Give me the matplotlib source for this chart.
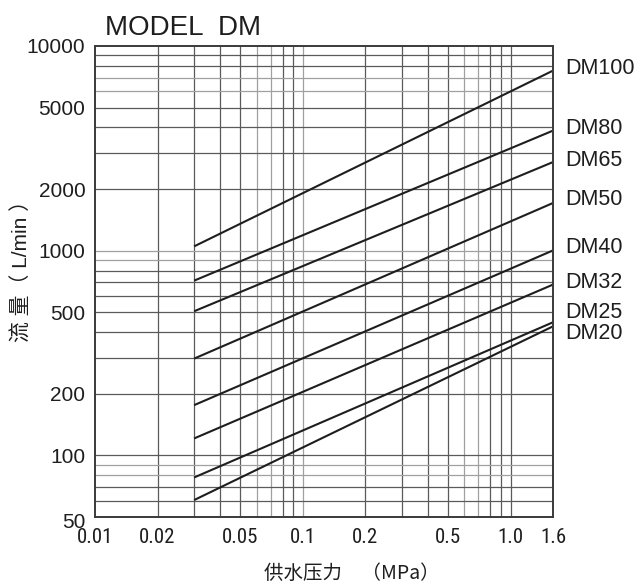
import numpy as np
import matplotlib
matplotlib.use('Agg')
import matplotlib.pyplot as plt
from matplotlib import font_manager as fm
from matplotlib.transforms import ScaledTranslation

# ---- data ----
models = ['DM100', 'DM80', 'DM65', 'DM50', 'DM40', 'DM32', 'DM25', 'DM20']
p_start = [0.03] * 8
p_end = [1.6] * 8
q_start = [1050, 714, 506, 297, 176, 121, 78, 60.5]
q_end = [7580, 3860, 2710, 1710, 1003, 683, 447, 427]

xticks = [0.01, 0.02, 0.05, 0.1, 0.2, 0.5, 1.0, 1.6]
xticklabels = ['0.01', '0.02', '0.05', '0.1', '0.2', '0.5', '1.0', '1.6']
yticks = [50, 100, 200, 500, 1000, 2000, 5000, 10000]
yticklabels = ['50', '100', '200', '500', '1000', '2000', '5000', '10000']

# ---- fonts ----
names = {f.name for f in fm.fontManager.ttflist}
LATIN = 'Liberation Sans' if 'Liberation Sans' in names else 'DejaVu Sans'
NARROW = LATIN
for cand in ['Liberation Sans Narrow', 'Roboto Condensed', 'DejaVu Sans Condensed']:
    if cand in names:
        NARROW = cand
        break
CJK = 'Noto Sans CJK SC'

INK = '#1e1e1e'
GRID_DARK = '#5a5a5a'
GRID_LIGHT = '#a0a0a0'

fig = plt.figure(figsize=(6.44, 5.85), dpi=100)
ax = fig.add_axes([95 / 644, 1 - 517 / 585, (553 - 95) / 644, (517 - 46) / 585])
ax.set_xscale('log')
ax.set_yscale('log')
ax.set_xlim(0.01, 1.6)
ax.set_ylim(50, 10000)

# grid
light_x = {0.06, 0.07, 0.1, 0.6, 0.7}
light_y = {7000, 6000, 1000, 900, 90, 80}
xg = [round(k * 10.0 ** d, 4) for d in (-2, -1) for k in range(1, 10)] + [1.0]
for v in xg:
    if v <= 0.01:
        continue
    ax.axvline(v, color=GRID_LIGHT if v in light_x else GRID_DARK, lw=0.9, zorder=1)
yg = [k * 10 ** d for d in (1, 2, 3) for k in range(1, 10)] + [10000]
for v in yg:
    if v <= 50 or v >= 10000:
        continue
    ax.axhline(v, color=GRID_LIGHT if v in light_y else GRID_DARK, lw=0.9, zorder=1)

# lines
for m, x0, x1, y0, y1 in zip(models, p_start, p_end, q_start, q_end):
    ax.plot([x0, x1], [y0, y1], color=INK, lw=1.5, zorder=3, solid_capstyle='butt')

# model labels
label_dy_px = [2, 2, 2, 3, 2.5, 2, 9.5, -7.5]
for m, x1, y1, dy in zip(models, p_end, q_end, label_dy_px):
    ax.annotate(m, xy=(x1, y1), xytext=(8.6, dy * 0.72), textcoords='offset points',
                ha='left', va='center', fontsize=15.5, family=LATIN, color=INK,
                annotation_clip=False)

# ticks
ax.set_xticks(xticks)
ax.set_xticklabels(xticklabels, family=NARROW, fontsize=15, color=INK)
ax.set_xticks([], minor=True)
ax.set_yticks(yticks)
ax.set_yticklabels(yticklabels, family=LATIN, fontsize=15, color=INK)
ax.set_yticks([], minor=True)
ax.tick_params(axis='both', which='both', length=0)
ax.tick_params(axis='x', pad=8)
ax.tick_params(axis='y', pad=7)
# nudge "50" slightly down
lab50 = ax.get_yticklabels()[0]
lab50.set_transform(lab50.get_transform() + ScaledTranslation(0, -3 / 100, fig.dpi_scale_trans))

for s in ax.spines.values():
    s.set_color('#3a3a3a')
    s.set_linewidth(1.4)
    s.set_zorder(4)

# title and axis labels
fig.text(105 / 644, 1 - 35 / 585, 'MODEL  DM', fontsize=20, family=LATIN, color=INK,
         ha='left', va='baseline')
fig.text(22 / 644, 1 - 266 / 585, '流 量（ L/min ）', rotation=90, fontsize=15,
         family=[LATIN, CJK], color=INK, ha='center', va='center')
fig.text(352 / 644, 1 - 573 / 585, '供水压力　（MPa）', fontsize=14,
         family=[CJK, LATIN], color=INK, ha='center', va='center')

fig.savefig('out.png', dpi=100)
